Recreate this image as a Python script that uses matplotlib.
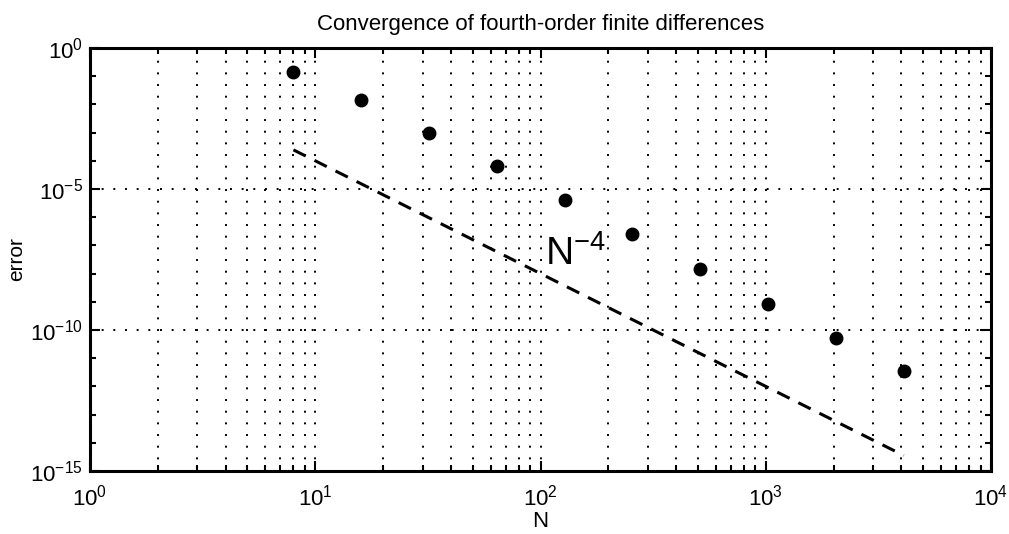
import matplotlib
matplotlib.use("Agg")
import matplotlib.pyplot as plt
import numpy as np
from matplotlib.ticker import LogLocator, FixedLocator, NullFormatter

plt.rcParams['font.family'] = ['Liberation Sans', 'DejaVu Sans']
plt.rcParams['mathtext.fontset'] = 'custom'
plt.rcParams['mathtext.rm'] = 'Liberation Sans'
plt.rcParams['mathtext.it'] = 'Liberation Sans:italic'
plt.rcParams['mathtext.bf'] = 'Liberation Sans:bold'
plt.rcParams['mathtext.sf'] = 'Liberation Sans'

N = [8, 16, 32, 64, 128, 256, 512, 1024, 2048, 4096]
err = [1.37e-1, 1.47e-2, 1.0e-3, 6.8e-5, 4.2e-6, 2.5e-7, 1.4e-8, 8.3e-10, 5.3e-11, 3.5e-12]
ref = [n ** -4.0 for n in N]

fig = plt.figure(figsize=(10.09, 5.34), dpi=100)
ax = fig.add_axes([0.0892, 0.1180, 0.8930, 0.7921])

ax.loglog(N, err, 'o', color='black', markersize=9, zorder=3)
ax.loglog(N, ref, '--', color='black', linewidth=2.2, dashes=(4.5, 3.2), zorder=3)
ax.text(105, 5e-8, r'N$^{\mathrm{-4}}$', fontsize=28, va='center', ha='left')

ax.set_xlim(1, 1e4)
ax.set_ylim(1e-15, 1)

ax.xaxis.set_major_locator(FixedLocator([1, 10, 100, 1000, 10000]))
ax.xaxis.set_minor_locator(LogLocator(base=10, subs=np.arange(2, 10), numticks=20))
ax.xaxis.set_minor_formatter(NullFormatter())
ax.yaxis.set_major_locator(FixedLocator([1e-15, 1e-10, 1e-5, 1]))
ax.yaxis.set_minor_locator(FixedLocator([10.0 ** k for k in range(-15, 1)]))
ax.yaxis.set_minor_formatter(NullFormatter())

dot = (0, (1, 5))
ax.grid(True, which='major', axis='both', color='black', linestyle=dot, linewidth=1.4)
ax.grid(True, which='minor', axis='x', color='black', linestyle=dot, linewidth=1.4)

ax.tick_params(which='both', direction='in', top=True, right=True, labelsize=16, width=1.5)
ax.tick_params(axis='x', which='major', length=7, pad=10)
ax.tick_params(axis='y', which='major', length=7, pad=5)
ax.tick_params(which='minor', length=4)
for s in ax.spines.values():
    s.set_linewidth(2.2)
    s.set_color('black')

ax.set_xlabel('N', fontsize=16, labelpad=0)
ax.set_ylabel('error', fontsize=15)
ax.yaxis.set_label_coords(-0.071, 0.5)
ax.set_title('Convergence of fourth-order finite differences', fontsize=16, pad=13)

fig.savefig('out.png', dpi=100)
